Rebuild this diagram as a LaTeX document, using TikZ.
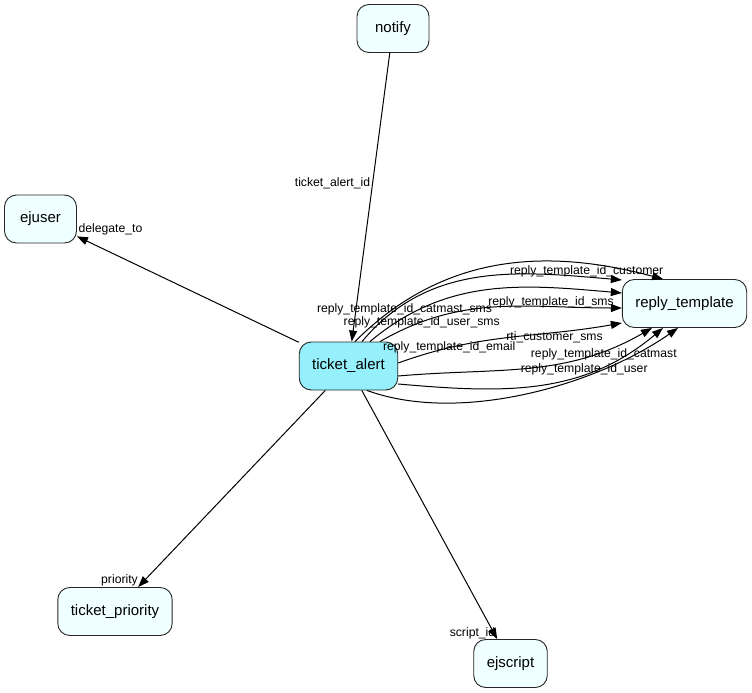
\documentclass[tikz,border=0pt]{standalone}
\usepackage{fontspec}
\setmainfont{Liberation Sans}
\usetikzlibrary{arrows.meta}
\definecolor{tblfill}{RGB}{240,255,255}
\definecolor{mainfill}{RGB}{150,240,252}

\begin{document}
\begin{tikzpicture}[x=1pt, y=1pt, >={Triangle[length=11pt,width=8pt]},
    tbl/.style={rectangle, rounded corners=12pt, draw=black!85, line width=0.9pt, fill=tblfill,
      minimum width=72pt, minimum height=48pt, inner xsep=13pt, font=\fontsize{15}{18}\selectfont},
    lbl/.style={inner sep=0pt, font=\fontsize{12.2}{14}\selectfont},
    fk/.style={line width=1pt, ->}]

    \useasboundingbox (0,0) rectangle (752,-693);

    % Nodes
    \node (alert) [tbl, fill=mainfill] at (348.5,-366) {ticket\_alert};
    \node (reply) [tbl] at (684.5,-303.5) {reply\_template};
    \node (notify) [tbl] at (393,-28.5) {notify};
    \node (ejuser) [tbl] at (40.5,-219) {ejuser};
    \node (prio) [tbl] at (115,-611.5) {ticket\_priority};
    \node (script) [tbl] at (510.5,-663.5) {ejscript};

    % Labels
    \node (lnotify) [lbl] at (332.5,-183) {ticket\_alert\_id};
    \node (ldeleg) [lbl] at (110.5,-229) {delegate\_to};
    \node (lprio) [lbl] at (119.5,-580) {priority};
    \node (lscript) [lbl] at (472.5,-633) {script\_id};
    \node (lcust) [lbl] at (586.7,-271.7) {reply\_template\_id\_customer};
    \node (lcmsms) [lbl] at (404.5,-309.5) {reply\_template\_id\_catmast\_sms};
    \node (lsms) [lbl] at (551,-302.3) {reply\_template\_id\_sms};
    \node (lusms) [lbl] at (421.7,-322.5) {reply\_template\_id\_user\_sms};
    \node (lrti) [lbl] at (554.5,-337.3) {rti\_customer\_sms};
    \node (lemail) [lbl] at (449.2,-347.3) {reply\_template\_id\_email};
    \node (lcm) [lbl] at (603.8,-354.3) {reply\_template\_id\_catmast};
    \node (luser) [lbl] at (584.2,-369) {reply\_template\_id\_user};

    % Arrows
    \draw[fk] (notify) -- (alert);
    \draw[fk] (alert) -- (ejuser);
    \draw[fk] (alert) -- (prio);
    \draw[fk] (alert) -- (script);

    \draw[fk] ([xshift=6.5pt]alert.north) to[out=45,in=165] ([xshift=-21.5pt]reply.north);
    \draw[fk] ([xshift=13.5pt]alert.north) to[out=50,in=175] ([yshift=23.5pt]reply.west);
    \draw[fk] ([xshift=21.5pt]alert.north) to[out=40,in=175] ([yshift=10.5pt]reply.west);
    \draw[fk] ([xshift=31.5pt]alert.north) to[out=30,in=180] ([yshift=-4.5pt]reply.west);
    \draw[fk] ([yshift=3pt]alert.east) to[out=20,in=190] ([yshift=-19.5pt]reply.west);
    \draw[fk] ([yshift=-10pt]alert.east) to[out=5,in=210] ([xshift=-32.5pt]reply.south);
    \draw[fk] ([yshift=-18pt]alert.east) to[out=-5,in=220] ([xshift=-21.5pt]reply.south);
    \draw[fk] ([xshift=18.5pt]alert.south) to[out=-20,in=215,looseness=0.8] ([xshift=-6.5pt]reply.south);

\end{tikzpicture}
\end{document}
